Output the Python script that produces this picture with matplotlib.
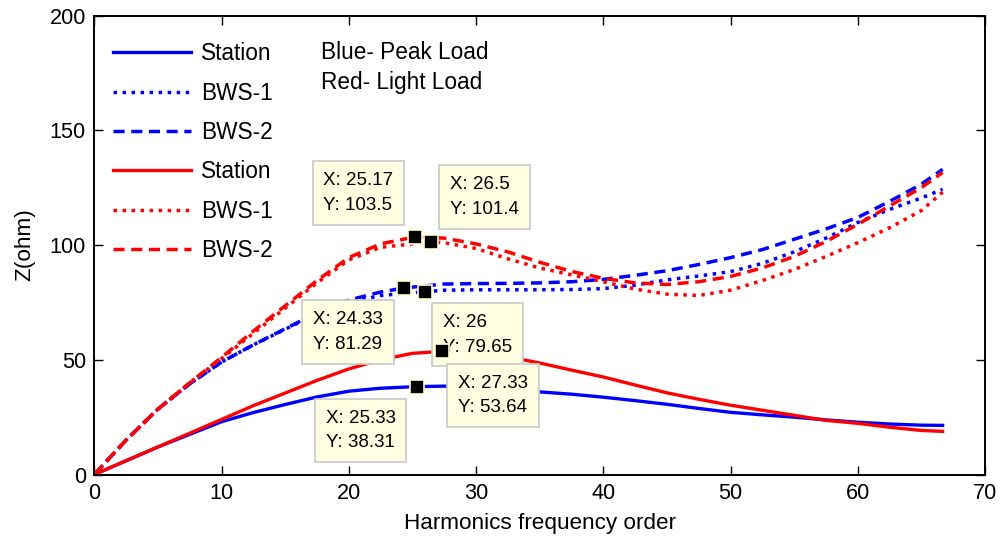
import matplotlib
matplotlib.use("Agg")
import matplotlib.pyplot as plt

plt.rcParams['font.family'] = ['Liberation Sans', 'DejaVu Sans']

# ---- impedance scans: Z(ohm) against harmonic order ----
# Peak load (blue)
peak_station_x = [0, 2.5, 5, 7.5, 10, 12.5, 15, 17.5, 20, 22.5, 25.33, 27.5, 30, 32.5, 35, 37.5,
                  40, 42.5, 45, 47.5, 50, 52.5, 55, 57.5, 60, 62.5, 65, 66.67]
peak_station_y = [0, 6, 12, 17.5, 23, 27, 30.5, 33.8, 36.3, 37.6, 38.31, 38.5, 38.2, 37.3, 36, 35,
                  33.7, 32.2, 30.6, 28.8, 27.1, 26, 25, 23.8, 22.8, 22, 21.5, 21.4]

peak_bws1_x = [0, 2.5, 5, 7.5, 10, 12.5, 15, 17.5, 20, 22.5, 26, 27.5, 30, 32.5, 35, 37.5,
               40, 42.5, 45, 47.5, 50, 52.5, 55, 57.5, 60, 62.5, 65, 66.67]
peak_bws1_y = [0, 15, 28.5, 39.5, 49, 56.5, 63.3, 70, 75, 78, 79.65, 80.3, 80.5, 80.5, 80.5, 80.6,
               81, 82.5, 84.8, 86.5, 88.4, 92, 97, 103, 109.8, 115.5, 120.5, 124.3]

peak_bws2_x = [0, 2.5, 5, 7.5, 10, 12.5, 15, 17.5, 20, 22.5, 24.33, 27.5, 30, 32.5, 35, 37.5,
               40, 42.5, 45, 47.5, 50, 52.5, 55, 57.5, 60, 62.5, 65, 66.67]
peak_bws2_y = [0, 15, 28.5, 39.5, 49, 56.5, 63.5, 70.5, 76, 79.5, 81.29, 83, 83.2, 83.3, 83.5, 84,
               85, 86.8, 88.8, 91.5, 94.5, 98, 102.5, 107, 112, 119, 126.5, 133]

# Light load (red)
light_station_x = [0, 2.5, 5, 7.5, 10, 12.5, 15, 17.5, 20, 22.5, 25, 27.33, 30, 32.5, 35, 37.5,
                   40, 42.5, 45, 47.5, 50, 52.5, 55, 57.5, 60, 62.5, 65, 66.67]
light_station_y = [0, 6, 12, 18, 24, 30, 35.5, 41, 46, 50, 52.8, 53.64, 53.2, 51.3, 48.6, 45.5,
                   42.5, 39, 35.6, 32.8, 30.2, 28, 25.8, 23.6, 22.3, 20.6, 19.2, 18.8]

light_bws1_x = [0, 2.5, 5, 7.5, 10, 12.5, 15, 17.5, 20, 22.5, 26.5, 27.5, 30, 32.5, 35, 37.5,
                40, 42.5, 45, 47.5, 50, 52.5, 55, 57.5, 60, 62.5, 65, 66.67]
light_bws1_y = [0, 15, 28.5, 40, 50.5, 61.5, 72.5, 83.5, 93.5, 99, 101.4, 101, 98.5, 94, 90, 87,
                84, 80.8, 78.6, 78, 80.3, 84.5, 89.3, 95, 101, 107.5, 115, 123]

light_bws2_x = [0, 2.5, 5, 7.5, 10, 12.5, 15, 17.5, 20, 22.5, 25.17, 27.5, 30, 32.5, 35, 37.5,
                40, 42.5, 45, 47.5, 50, 52.5, 55, 57.5, 60, 62.5, 65, 66.67]
light_bws2_y = [0, 15, 28.5, 40, 51, 62.5, 73.5, 84.5, 94.5, 100.5, 103.5, 103, 100.5, 97, 92.5, 88.5,
                85.5, 83.5, 82.8, 84, 86.3, 90, 95, 101.5, 109, 117, 125, 131.6]

series_labels = ["Station", "BWS-1", "BWS-2", "Station", "BWS-1", "BWS-2"]

# data tips shown on the chart
tip_x = [25.17, 26.5, 24.33, 26, 27.33, 25.33]
tip_y = [103.5, 101.4, 81.29, 79.65, 53.64, 38.31]
tip_offsets = [(-56, 44), (53, 45), (-56, -44), (52, -43), (51, -44), (-56, -44)]

x_ticks = [0, 10, 20, 30, 40, 50, 60, 70]
y_ticks = [0, 50, 100, 150, 200]

fig = plt.figure(figsize=(10.01, 5.41), dpi=100)
ax = fig.add_axes([0.0942, 0.1229, 0.8898, 0.8484])

BLUE = (0, 0, 1)
RED = (1, 0, 0)
lw_solid = 2.4
lw_dash = 2.5
dashed = (0, (3.2, 1.9))
dotted = (0, (1.0, 1.6))

ax.plot(peak_station_x, peak_station_y, color=BLUE, lw=lw_solid, label=series_labels[0])
ax.plot(peak_bws1_x, peak_bws1_y, color=BLUE, lw=lw_dash, linestyle=dotted, label=series_labels[1])
ax.plot(peak_bws2_x, peak_bws2_y, color=BLUE, lw=lw_dash, linestyle=dashed, label=series_labels[2])
ax.plot(light_station_x, light_station_y, color=RED, lw=lw_solid, label=series_labels[3])
ax.plot(light_bws1_x, light_bws1_y, color=RED, lw=lw_dash, linestyle=dotted, label=series_labels[4])
ax.plot(light_bws2_x, light_bws2_y, color=RED, lw=lw_dash, linestyle=dashed, label=series_labels[5])

# data-tip boxes and square markers
for tx, ty, off in zip(tip_x, tip_y, tip_offsets):
    ax.annotate(f"X: {tx:g}\nY: {ty:g}", xy=(tx, ty), xytext=off, textcoords='offset pixels',
                ha='center', va='center', multialignment='left', fontsize=13.5,
                linespacing=1.6, zorder=5,
                bbox=dict(boxstyle='square,pad=0.58', facecolor='#ffffe1', edgecolor='#c8c8c8', lw=1.2))
ax.plot(tip_x, tip_y, linestyle='none', marker='s', markersize=10, color='black',
        markeredgecolor='#ffffd0', markeredgewidth=1.2, zorder=6)

ax.text(17.8, 183.8, "Blue- Peak Load", fontsize=16.3, va='center', ha='left')
ax.text(17.8, 170.7, "Red- Light Load", fontsize=16.3, va='center', ha='left')

leg = ax.legend(loc='upper left', bbox_to_anchor=(0.0205, 0.9415), frameon=False, fontsize=16.3,
                handlelength=3.45, handletextpad=0.45, labelspacing=0.72, borderpad=0,
                borderaxespad=0)

ax.set_xlim(0, 70)
ax.set_ylim(0, 200)
ax.set_xticks(x_ticks)
ax.set_yticks(y_ticks)
ax.tick_params(direction='in', length=6.5, width=1.0, top=True, right=True,
               labelsize=15.6, pad=6)
for s in ax.spines.values():
    s.set_linewidth(1.4)

ax.set_xlabel("Harmonics frequency order", fontsize=16.2)
ax.set_ylabel("Z(ohm)", fontsize=16.2)
ax.xaxis.set_label_coords(0.5, -0.083)
ax.yaxis.set_label_coords(-0.066, 0.5)

fig.savefig("out.png", dpi=100)
